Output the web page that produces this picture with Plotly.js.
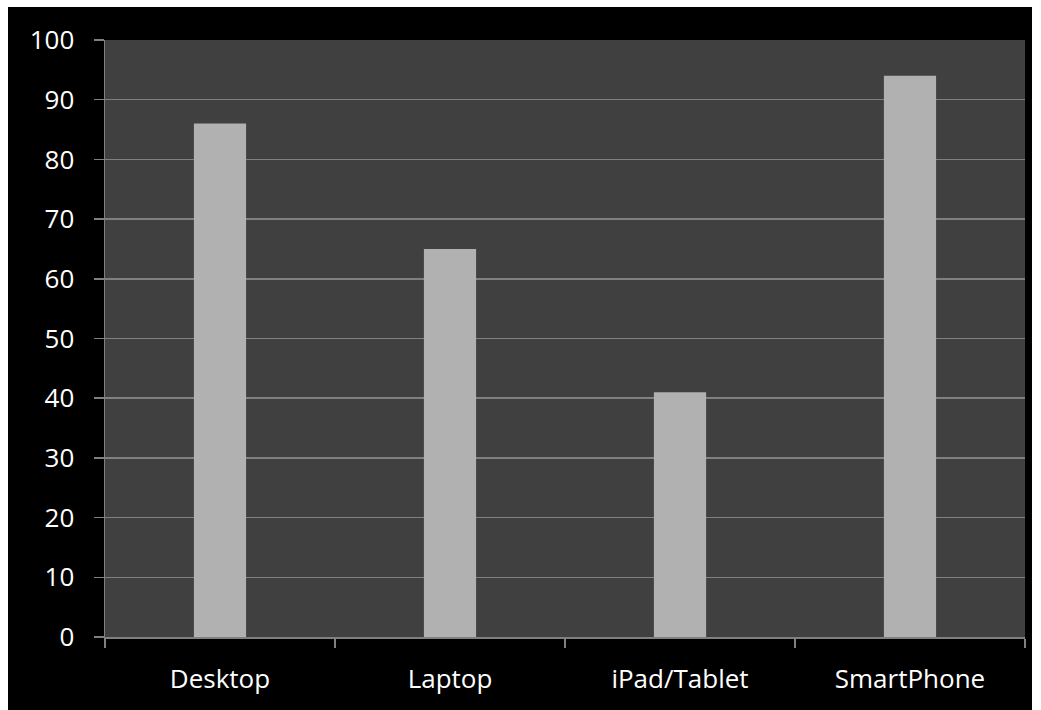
<!DOCTYPE html>
<html><head><meta charset="utf-8">
<script src="https://cdn.plot.ly/plotly-3.0.1.min.js"></script>
<style>html,body{margin:0;padding:0;background:#fff;}#chart{position:absolute;left:8px;top:7px;width:1024px;height:703px;}</style>
</head><body><div id="chart"></div>
<script>
const categories = ["Desktop", "Laptop", "iPad/Tablet", "SmartPhone"];
const values = [86, 65, 41, 94];
const yTicks = [0, 10, 20, 30, 40, 50, 60, 70, 80, 90, 100];

const trace = {
  type: 'bar', x: categories, y: values, width: 0.227,
  marker: {color: '#b1b1b1', line: {width: 0}},
  hoverinfo: 'x+y'
};
const font = {family: 'Open Sans, Liberation Sans, sans-serif', color: '#ffffff', size: 26};
const layout = {
  width: 1024, height: 703,
  paper_bgcolor: '#000000', plot_bgcolor: '#404040',
  margin: {l: 97, r: 7, t: 33, b: 73},
  font: font, showlegend: false, bargap: 0.77,
  xaxis: {type: 'category', tickson: 'boundaries', ticks: 'outside', ticklen: 9, tickcolor: '#808080', tickwidth: 1.5,
    showgrid: false, showline: true, linecolor: '#808080', linewidth: 1.5, tickfont: font, ticklabelstandoff: 18},
  yaxis: {range: [0, 100], tickvals: yTicks, ticks: 'outside', ticklen: 10, tickcolor: '#808080', tickwidth: 1.5,
    showgrid: true, gridcolor: '#808080', gridwidth: 1.5, showline: true, linecolor: '#808080', linewidth: 1.5,
    zeroline: false, tickfont: font, ticklabelstandoff: 14}
};
Plotly.newPlot('chart', [trace], layout, {displayModeBar: false, staticPlot: true});
</script></body></html>
